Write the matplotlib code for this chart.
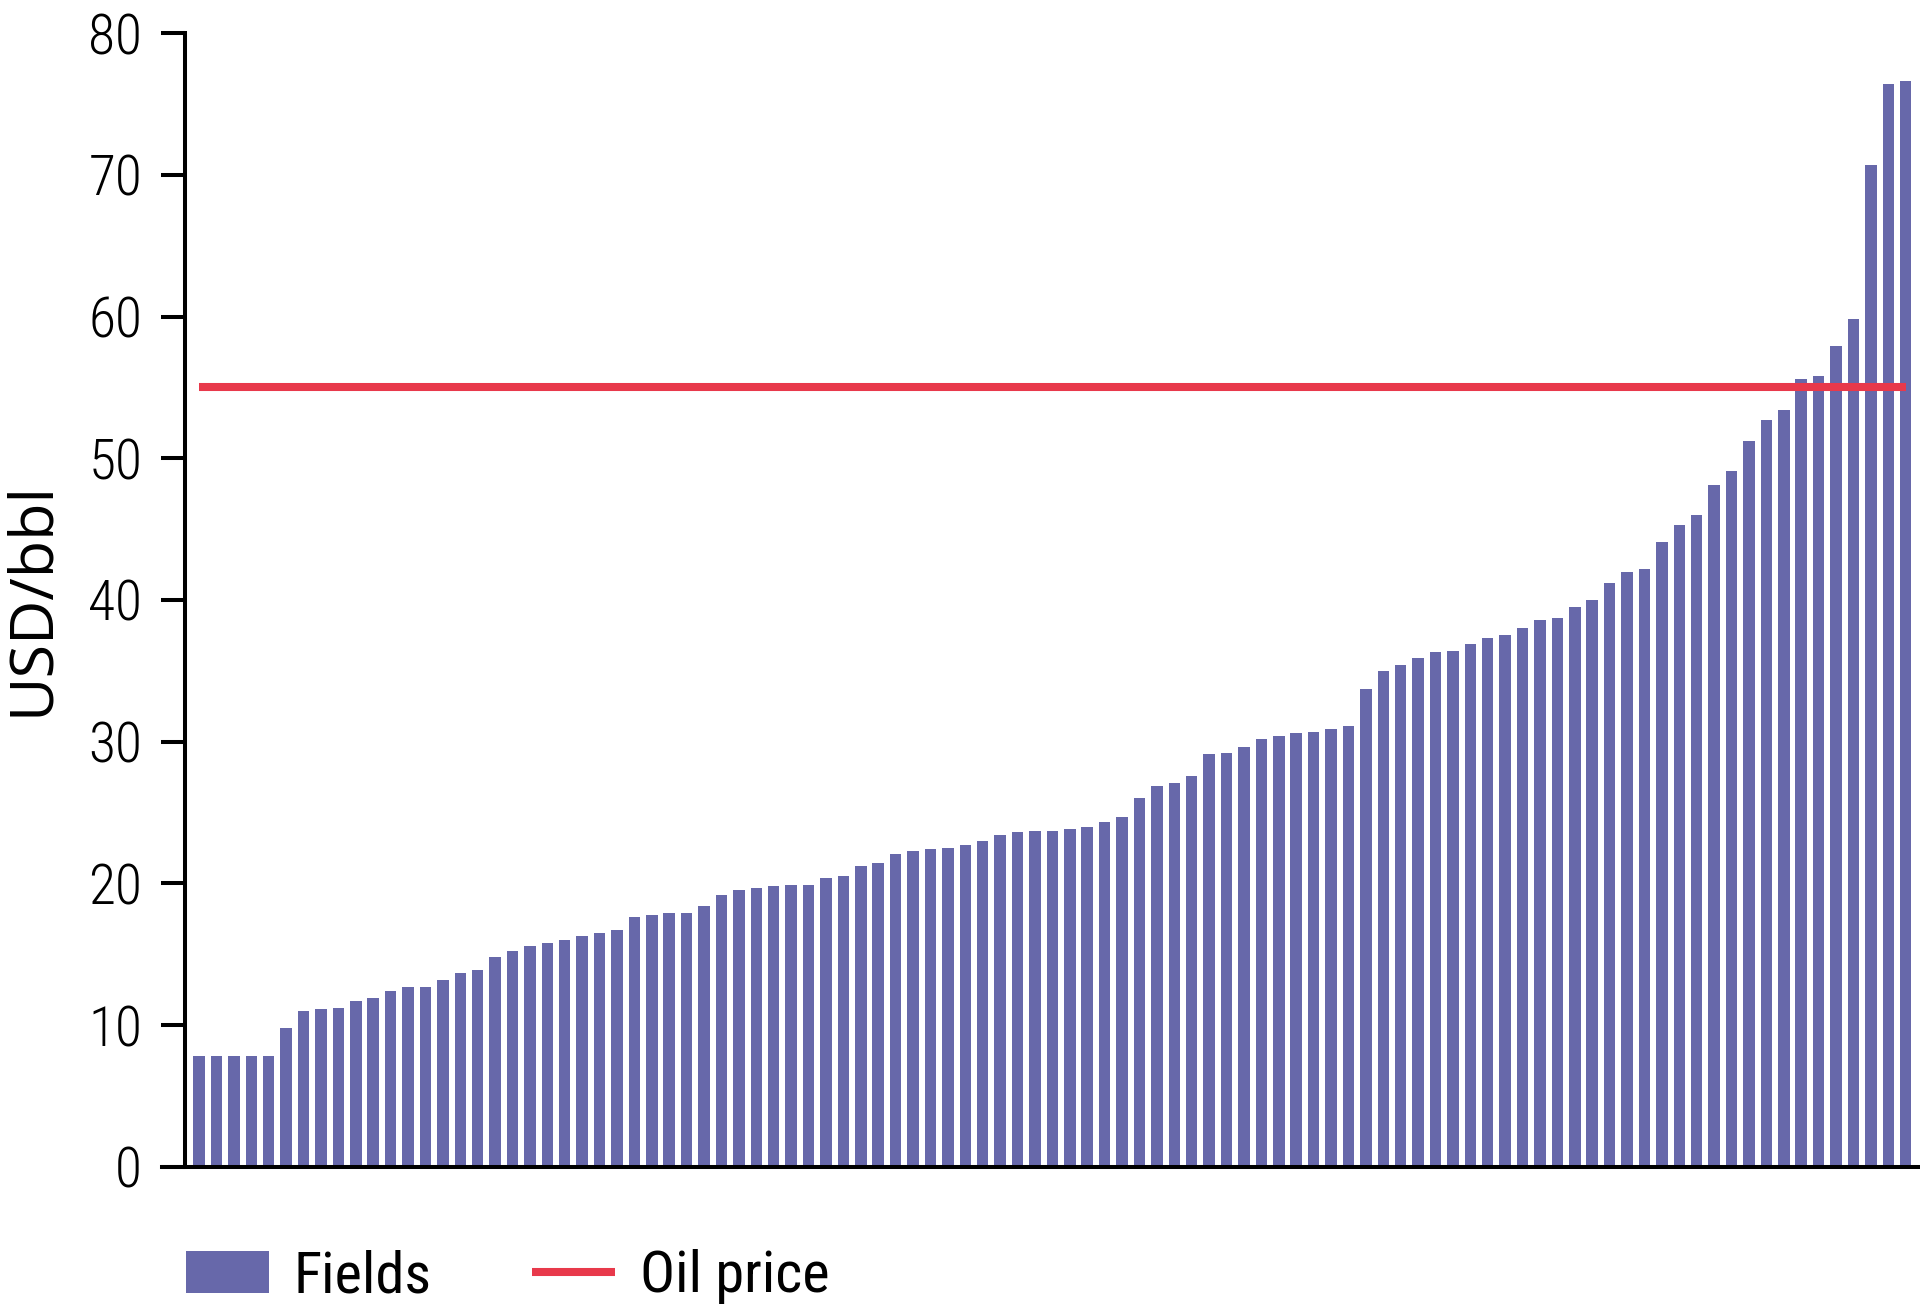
import matplotlib
matplotlib.use("Agg")
import matplotlib.pyplot as plt
import numpy as np

# Break-even price per field, sorted ascending (USD/bbl)
field_costs = [
    7.8, 7.8, 7.8, 7.8, 7.8, 9.8, 11.0, 11.1, 11.2, 11.7,
    11.9, 12.4, 12.7, 12.7, 13.2, 13.7, 13.9, 14.8, 15.2, 15.6,
    15.8, 16.0, 16.3, 16.5, 16.7, 17.6, 17.8, 17.9, 17.9, 18.4,
    19.2, 19.5, 19.7, 19.8, 19.9, 19.9, 20.4, 20.5, 21.2, 21.4,
    22.1, 22.3, 22.4, 22.5, 22.7, 23.0, 23.4, 23.6, 23.7, 23.7,
    23.8, 24.0, 24.3, 24.7, 26.0, 26.9, 27.1, 27.6, 29.1, 29.2,
    29.6, 30.2, 30.4, 30.6, 30.7, 30.9, 31.1, 33.7, 35.0, 35.4,
    35.9, 36.3, 36.4, 36.9, 37.3, 37.5, 38.0, 38.6, 38.7, 39.5,
    40.0, 41.2, 42.0, 42.2, 44.1, 45.3, 46.0, 48.1, 49.1, 51.2,
    52.7, 53.4, 55.6, 55.8, 57.9, 59.8, 70.7, 76.4, 76.6,
]
oil_price = 55
y_ticks = [0, 10, 20, 30, 40, 50, 60, 70, 80]
series_labels = ["Fields", "Oil price"]

bar_color = "#6768AA"
line_color = "#E8394B"
narrow = ["Liberation Sans Narrow", "Roboto Condensed", "DejaVu Sans Condensed",
          "Open Sans Condensed", "DejaVu Sans"]

fig = plt.figure(figsize=(19.2, 13.1), dpi=100)
ax = fig.add_axes([0.0964, 0.1094, 0.9036, 0.8652])

x = np.arange(len(field_costs))
bars = ax.bar(x, field_costs, width=0.66, color=bar_color, linewidth=0)
line, = ax.plot([x[0], x[-1]], [oil_price, oil_price], color=line_color,
                linewidth=5.8, solid_capstyle="butt")

ax.set_xlim(-0.8, len(field_costs) - 1 + 0.82)
ax.set_ylim(0, 80)
ax.set_xticks([])
ax.set_yticks(y_ticks)
ax.set_yticklabels([str(t) for t in y_ticks], family=narrow,
                   stretch="condensed", weight="light", fontsize=40)
ax.tick_params(axis="y", direction="out", length=17, width=2.9, pad=14)

for side in ["top", "right"]:
    ax.spines[side].set_visible(False)
for side in ["left", "bottom"]:
    ax.spines[side].set_linewidth(2.9)
ax.spines["bottom"].set_bounds(-0.8 - 23 / 17.415, len(field_costs) - 1 + 0.82)

# Y label
fig.text(32 / 1920, 1 - 598 / 1310, "USD/bbl", rotation=90, ha="center",
         va="center", fontsize=44, family=["Open Sans", "DejaVu Sans"])

# Legend below the plot
leg = fig.legend([bars, line], series_labels, loc="center left",
                 bbox_to_anchor=(186 / 1920, 1 - 1277 / 1310),
                 ncol=2, frameon=False,
                 prop={"family": narrow, "size": 42, "stretch": "condensed"},
                 handlelength=1.42, handleheight=0.74, handletextpad=0.43,
                 columnspacing=1.72, borderpad=0, borderaxespad=0)

fig.savefig("out.png", dpi=100)
